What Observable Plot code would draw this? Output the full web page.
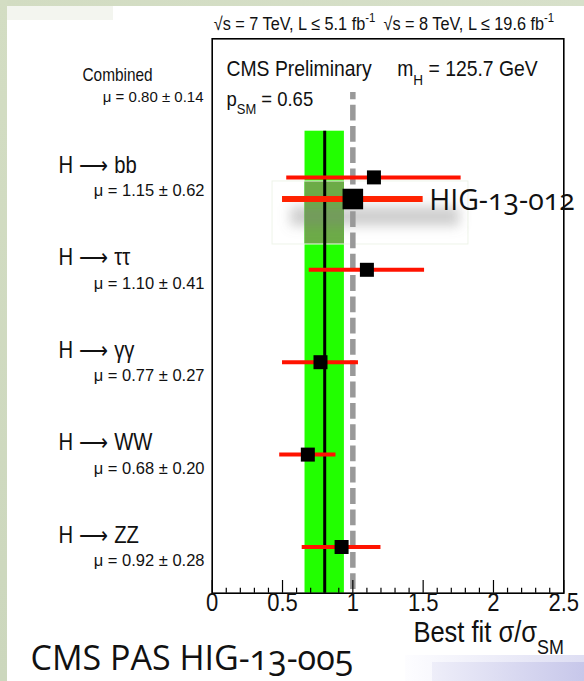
<!DOCTYPE html>
<html>
<head>
<meta charset="utf-8">
<script src="https://cdn.jsdelivr.net/npm/d3@7"></script>
<script src="https://cdn.jsdelivr.net/npm/@observablehq/plot@0.6"></script>
<style>
  html, body { margin: 0; padding: 0; background: #fff; }
  #slide { position: relative; width: 584px; height: 681px; overflow: hidden; background: #fff; }
  .deco { position: absolute; }
  #chart { position: absolute; left: 0; top: 0; }
  #chart svg text { white-space: pre; }
</style>
</head>
<body>
<div id="slide">
  <div class="deco" style="left:0;top:0;width:584px;height:5.5px;background:linear-gradient(90deg,#d2dcc2,#d7e0ca)"></div>
  <div class="deco" style="left:0;top:0;width:6.7px;height:681px;background:linear-gradient(180deg,#d3ddc3,#ccd7bd)"></div>
  <div class="deco" style="left:6.7px;top:5.5px;width:106px;height:14.5px;background:#f3f5ef"></div>
  <div class="deco" style="left:405px;top:655px;width:179px;height:26px;background:linear-gradient(90deg,#fdfdff,#dedef3)"></div>
  <div class="deco" style="left:432px;top:662px;width:152px;height:19px;background:linear-gradient(90deg,#eeeef9,#c7c7ea)"></div>
  <div id="chart"></div>
</div>
<script>
// Signal strength per decay channel (CMS, mH = 125.7 GeV)
const channels = ["H ⟶ bb", "H ⟶ ττ", "H ⟶ γγ", "H ⟶ WW", "H ⟶ ZZ"];
const muValues = [1.15, 1.10, 0.77, 0.68, 0.92];
const muErrors = [0.62, 0.41, 0.27, 0.20, 0.28];
const combinedMu = 0.80;
const combinedErr = 0.14;
const pSM = 0.65;
const massH = 125.7;
// Updated VH(bb) result
const higLabel = "HIG-13-012";
const higMu = 1.0;
const higErr = 0.5;
const xTicks = [0, 0.5, 1, 1.5, 2, 2.5];
const minorTicks = d3.range(1, 25).filter(i => i % 5 !== 0).map(i => i / 10);

const rows = channels.map((name, i) => ({name, row: i + 1, mu: muValues[i], err: muErrors[i]}));
const combined = [{name: "Combined", row: 0, mu: combinedMu, err: combinedErr}];
const hig = [{name: higLabel, row: 1.234, mu: higMu, err: higErr}];

const W = 584, H = 681;
const mTop = 38.3, mBottom = 88.3, mLeft = 211.7, mRight = 20.7;
const frameH = H - mTop - mBottom;

const rootFont = "'Liberation Sans', Arial, Helvetica, sans-serif";
const slideFont = "'Open Sans', Lato, 'Noto Sans', sans-serif";
const fmt = v => v.toFixed(2);
// ROOT's Helvetica renders slightly condensed
const condense = 0.88;
const shadowFill = "#808080";

const chart = Plot.plot({
  width: W,
  height: H,
  marginTop: mTop,
  marginBottom: mBottom,
  marginLeft: mLeft,
  marginRight: mRight,
  x: {domain: [0, 2.5], axis: null},
  y: {domain: [5.5, -0.5], axis: null},
  style: {background: "transparent", overflow: "visible", fontFamily: rootFont},
  marks: [
    // combined ±1σ band and its central value
    Plot.rect(combined, {x1: d => d.mu - d.err, x2: d => d.mu + d.err, y1: 0.5, y2: 5.5, fill: "#22ff00"}),
    // pasted result box (darkened band, faint border, drop shadow)
    Plot.rect(combined, {x1: d => d.mu - d.err, x2: d => d.mu + d.err, y1: 1.044, y2: 1.726, fill: "#6cab47"}),
    Plot.rect(hig, {x1: 0.429, x2: 1.822, y1: 1.044, y2: 1.726, fill: "none", stroke: "#eef4e9", strokeWidth: 1}),
    Plot.rect(hig, {x1: 0.56, x2: 1.76, y1: 1.32, y2: 1.53, fill: shadowFill, fillOpacity: 0.38}),
    Plot.ruleX(combined, {x: "mu", y1: 0.5, y2: 5.5, stroke: "#000", strokeWidth: 3}),
    // SM expectation
    Plot.ruleX([1], {x: d => d, y1: 0.08, y2: 5.5, stroke: "#999", strokeWidth: 5.5, strokeDasharray: "15.8,5.5", strokeDashoffset: 8.5}),
    // axis ticks pointing into the frame
    Plot.tickX(minorTicks, {x: d => d, insetTop: frameH - 5, stroke: "#000", strokeWidth: 1.2}),
    Plot.tickX(xTicks, {x: d => d, insetTop: frameH - 12.7, stroke: "#000", strokeWidth: 1.2}),
    // per-channel measurements
    Plot.ruleY(rows, {y: "row", x1: d => d.mu - d.err, x2: d => d.mu + d.err, stroke: "#ff1200", strokeWidth: 4}),
    Plot.dot(rows, {x: "mu", y: "row", symbol: "square", fill: "#000", r: 7.9}),
    Plot.ruleY(hig, {y: "row", x1: d => d.mu - d.err, x2: d => d.mu + d.err, stroke: "#ff2200", strokeWidth: 6}),
    Plot.dot(hig, {x: "mu", y: "row", symbol: "square", fill: "#000", r: 11.6}),
    Plot.frame({stroke: "#000", strokeWidth: 1.6}),
    // tick labels and axis title
    Plot.text(xTicks, {x: d => d, text: d => String(d), frameAnchor: "bottom", dy: 17.5, fontSize: 25, fill: "#111"}),
    Plot.text(["Best fit σ/σ_{SM}"], {frameAnchor: "bottom-right", dx: 0, dy: 49, textAnchor: "end", lineAnchor: "bottom", fontSize: 29, fill: "#111"}),
    // channel names and values
    Plot.text(rows, {y: "row", text: "name", frameAnchor: "left", dx: 58 - mLeft, dy: -4.5, textAnchor: "start", lineAnchor: "bottom", fontSize: 23, fill: "#111"}),
    Plot.text(rows, {y: "row", text: d => `μ = ${fmt(d.mu)} ± ${fmt(d.err)}`, frameAnchor: "left", dx: 204 - mLeft, dy: 19, textAnchor: "end", lineAnchor: "bottom", fontSize: 16.5, fill: "#111"}),
    Plot.text(combined, {y: "row", text: "name", frameAnchor: "left", dx: 82 - mLeft, dy: -4.5, textAnchor: "start", lineAnchor: "bottom", fontSize: 17.5, fill: "#111"}),
    Plot.text(combined, {y: "row", text: d => `μ = ${fmt(d.mu)} ± ${fmt(d.err)}`, frameAnchor: "left", dx: 203 - mLeft, dy: 16.5, textAnchor: "end", lineAnchor: "bottom", fontSize: 15, fill: "#111"}),
    // header and in-frame annotations
    Plot.text(["√s = 7 TeV, L ≤ 5.1 fb^{-1}\u2002√s = 8 TeV, L ≤ 19.6 fb^{-1}"], {frameAnchor: "top-left", dx: 1.5, dy: -9.3, textAnchor: "start", lineAnchor: "bottom", fontSize: 18.5, fill: "#111"}),
    Plot.text(["CMS Preliminary"], {frameAnchor: "top-left", dx: 14.3, dy: 36.7, textAnchor: "start", lineAnchor: "bottom", fontSize: 22, fill: "#111"}),
    Plot.text([`m_{H} = ${massH} GeV`], {frameAnchor: "top-left", dx: 185, dy: 36.7, textAnchor: "start", lineAnchor: "bottom", fontSize: 22, fill: "#111"}),
    Plot.text([`p_{SM} = ${pSM}`], {frameAnchor: "top-left", dx: 14.3, dy: 66.7, textAnchor: "start", lineAnchor: "bottom", fontSize: 21, fill: "#111"}),
    // slide annotations
    Plot.text(hig, {x: d => d.mu + d.err, y: "row", text: "name", dx: 6, dy: 2, textAnchor: "start", fontSize: 28.5, fontFamily: slideFont, fill: "#111"}),
    Plot.text(["CMS PAS HIG-13-005"], {frameAnchor: "bottom-left", dx: 30 - mLeft, dy: 77, textAnchor: "start", lineAnchor: "bottom", fontSize: 34, fontFamily: slideFont, fill: "#111"})
  ]
});

document.getElementById("chart").appendChild(chart);

const NS = "http://www.w3.org/2000/svg";

// soft drop shadow under the pasted result
const defs = document.createElementNS(NS, "defs");
defs.innerHTML = '<filter id="soft-shadow" x="-30%" y="-200%" width="160%" height="500%"><feGaussianBlur stdDeviation="6"/></filter>';
chart.insertBefore(defs, chart.firstChild);
chart.querySelectorAll(`g[fill="${shadowFill}"]`).forEach(g => g.setAttribute("filter", "url(#soft-shadow)"));

// turn _{..} and ^{..} markup into sub/superscripts
chart.querySelectorAll("text").forEach(t => {
  const s = t.textContent;
  if (!/[_^]\{/.test(s)) return;
  const size = parseFloat(getComputedStyle(t).fontSize) || 16;
  t.textContent = "";
  const re = /([_^])\{([^}]*)\}/g;
  let last = 0, m, pending = 0;
  const add = (str, dy, small) => {
    const ts = document.createElementNS(NS, "tspan");
    ts.textContent = str;
    if (dy) ts.setAttribute("dy", dy);
    if (small) ts.setAttribute("font-size", size * 0.7);
    t.appendChild(ts);
  };
  while ((m = re.exec(s))) {
    if (m.index > last) { add(s.slice(last, m.index), pending, false); pending = 0; }
    const shift = m[1] === "_" ? size * 0.42 : -size * 0.42;
    add(m[2], shift + pending, true);
    pending = -shift;
    last = re.lastIndex;
  }
  if (last < s.length) add(s.slice(last), pending, false);
});

// slide texts use old-style figures; ROOT texts get condensed glyphs
chart.querySelectorAll("text").forEach(t => {
  const s = t.textContent;
  if (/HIG/.test(s)) { t.style.fontVariantNumeric = "oldstyle-nums"; return; }
  if (/μ/.test(s)) return;
  const tf = t.getAttribute("transform") || "";
  t.setAttribute("transform", `${tf} scale(${condense},1)`.trim());
});
</script>
</body>
</html>
